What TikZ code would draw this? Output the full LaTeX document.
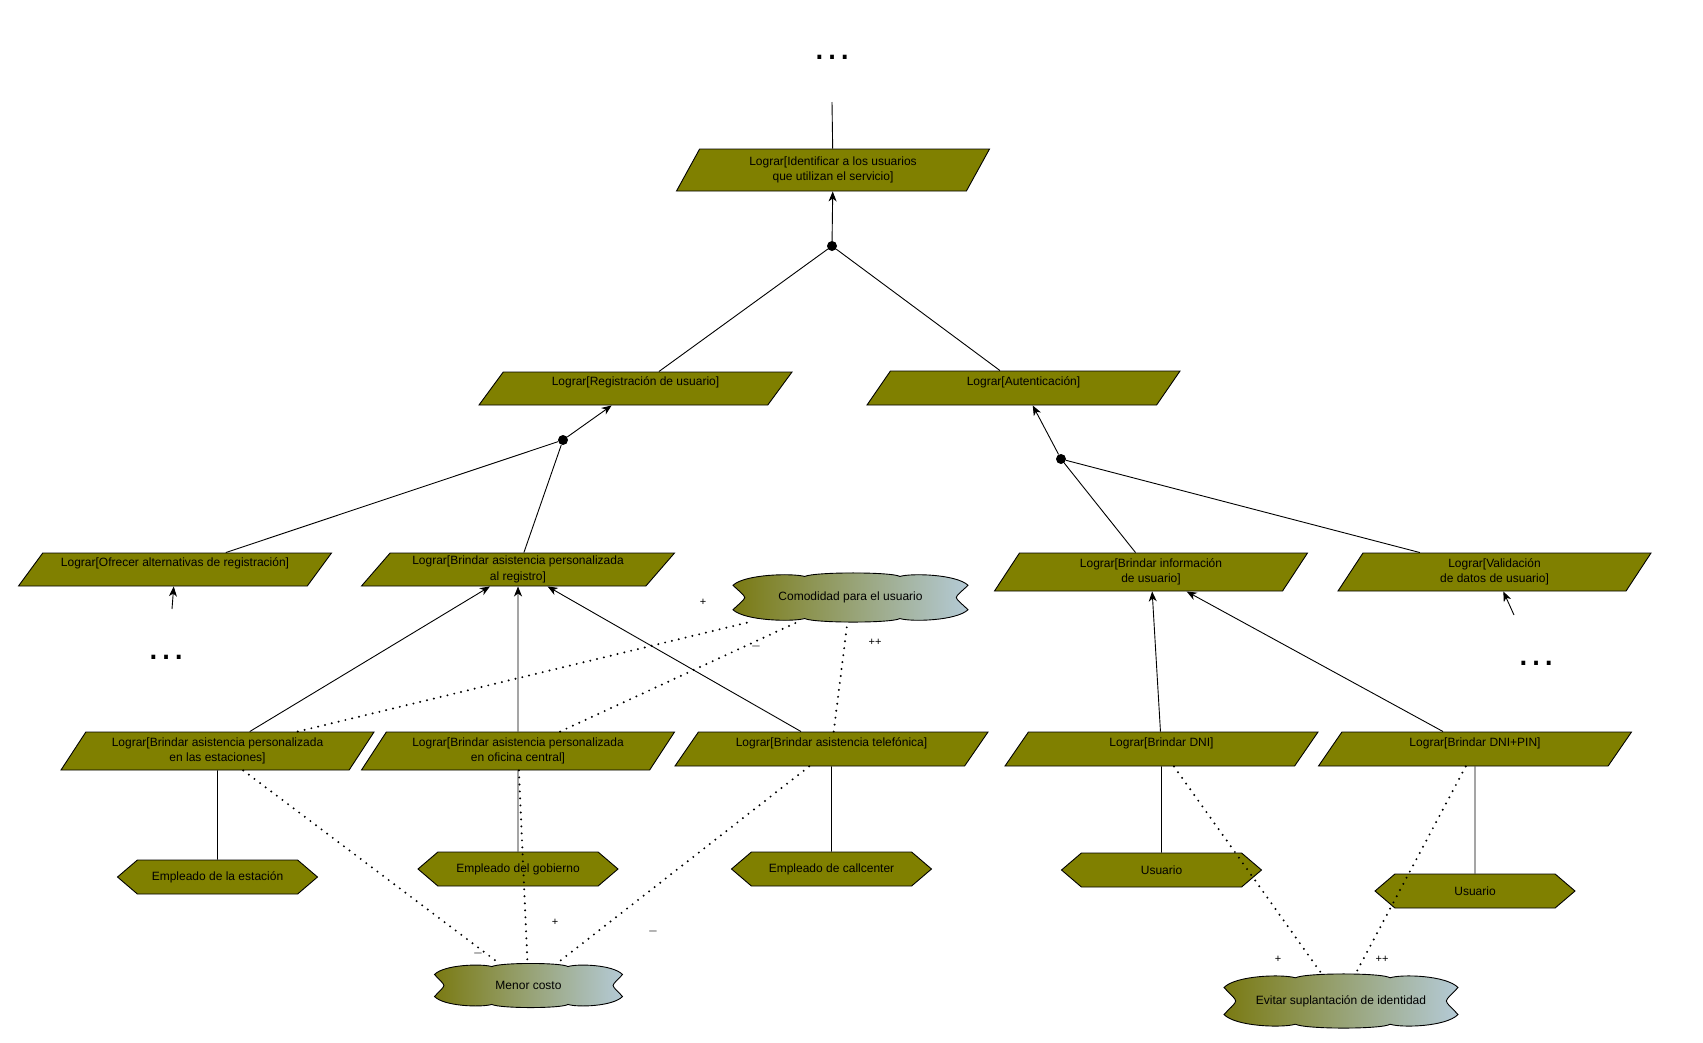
\documentclass[tikz,border=0pt]{standalone}
\usepackage{fontspec}
\setmainfont{Liberation Sans}
\usetikzlibrary{shapes.geometric,shapes.symbols,arrows.meta}

\definecolor{goalfill}{RGB}{128,128,0}
\definecolor{cloudL}{RGB}{122,122,18}
\definecolor{cloudR}{RGB}{180,202,214}
\definecolor{minusgray}{RGB}{155,155,155}

\tikzset{
  base/.style={font=\fontsize{12}{15.5}\selectfont},
  goal/.style={base, trapezium, trapezium stretches body, draw=black, line width=0.9pt,
    fill=goalfill, minimum width=313pt, align=center, inner sep=2pt},
  gh42/.style={goal, minimum height=42pt, trapezium left angle=53, trapezium right angle=127},
  gh38/.style={goal, minimum height=38pt, trapezium left angle=51, trapezium right angle=129},
  gh34/.style={goal, minimum height=34pt, trapezium left angle=48, trapezium right angle=132},
  gh33/.style={goal, minimum height=33pt, trapezium left angle=47, trapezium right angle=133},
  oneline/.style={text height=8pt, text depth=14pt},
  actor/.style={base, signal, signal to=west and east, signal pointer angle=81, draw=black,
    line width=0.9pt, fill=goalfill, minimum width=200pt, minimum height=34pt, inner sep=2pt},
  andpt/.style={circle, fill=black, minimum size=10pt, inner sep=0pt},
  more/.style={font=\fontsize{40}{40}\selectfont, inner sep=0pt},
  sgtext/.style={base, inner sep=0pt},
  link/.style={line width=0.9pt},
  meansend/.style={link, -{Stealth[length=10pt,width=8pt,inset=3pt]}},
  contrib/.style={line width=2.2pt, line cap=round, dash pattern=on 0pt off 7pt},
  lbl/.style={font=\fontsize{11}{11}\selectfont, inner sep=0pt},
  lblneg/.style={font=\fontsize{15}{15}\selectfont\bfseries, text=minusgray, inner sep=0pt},
}

% soft goal: cloud outline with a left-to-right shading and a named text node
\newcommand\softgoal[6]{%
  \begin{scope}[shift={(#2,#3)}, x=#4pt, y=#5pt]
    \draw[line width=0.9pt, left color=cloudL, right color=cloudR]
      (-1,0.5) .. controls (-0.9,0.95) and (-0.5,1.0) .. (-0.39,0.86)
      .. controls (-0.3,1.05) and (0.35,1.05) .. (0.42,0.86)
      .. controls (0.52,1.0) and (0.9,0.95) .. (1,0.5)
      .. controls (0.96,0.3) and (0.9,0.1) .. (0.9,0)
      .. controls (0.9,-0.1) and (0.96,-0.3) .. (1,-0.5)
      .. controls (0.9,-0.95) and (0.52,-1.0) .. (0.42,-0.86)
      .. controls (0.35,-1.05) and (-0.3,-1.05) .. (-0.39,-0.86)
      .. controls (-0.5,-1.0) and (-0.9,-0.95) .. (-1,-0.5)
      .. controls (-0.96,-0.3) and (-0.9,-0.1) .. (-0.9,0)
      .. controls (-0.9,0.1) and (-0.96,0.3) .. (-1,0.5) -- cycle;
  \end{scope}
  \node[sgtext, minimum width=#4pt*2, minimum height=#5pt*2] (#1) at (#2,#3) {#6};
}

\begin{document}
\begin{tikzpicture}[x=1pt, y=-1pt]
\fill[white] (0,0) rectangle (1703,1042);
\useasboundingbox (0,0) rectangle (1703,1042);

% goals
\node[gh42] (g0) at (833,170) {Lograr[Identificar a los usuarios\\que utilizan el servicio]};
\node[gh33, oneline] (reg) at (635.5,388.5) {Lograr[Registración de usuario]};
\node[gh34, oneline] (aut) at (1023.5,388) {Lograr[Autenticación]};
\node[gh33, oneline] (ofr) at (175,569.5) {Lograr[Ofrecer alternativas de registración]};
\node[gh33] (alreg) at (518,569.5) {Lograr[Brindar asistencia personalizada\\al registro]};
\node[gh38] (binf) at (1151,572) {Lograr[Brindar información\\de usuario]};
\node[gh38] (val) at (1494.5,572) {Lograr[Validación\\de datos de usuario]};
\node[gh38] (est) at (217.5,751) {Lograr[Brindar asistencia personalizada\\en las estaciones]};
\node[gh38] (ofi) at (518,751) {Lograr[Brindar asistencia personalizada\\en oficina central]};
\node[gh34, oneline] (tel) at (831.5,749) {Lograr[Brindar asistencia telefónica]};
\node[gh34, oneline] (dni) at (1161.5,749) {Lograr[Brindar DNI]};
\node[gh34, oneline] (pin) at (1475,749) {Lograr[Brindar DNI+PIN]};

% actors
\node[actor] (e1) at (217.5,877) {Empleado de la estación};
\node[actor] (e2) at (518,869) {Empleado del gobierno};
\node[actor] (e3) at (831.5,869) {Empleado de callcenter};
\node[actor] (u1) at (1161.5,870) {Usuario};
\node[actor] (u2) at (1475,891) {Usuario};

% soft goals
\softgoal{cm}{850.5}{597.5}{117.5}{24.5}{Comodidad para el usuario}
\softgoal{mc}{528.5}{985.5}{94}{22}{Menor costo}
\softgoal{ev}{1341}{1001}{117}{27}{Evitar suplantación de identidad}

% decomposition points
\node[andpt] (dA) at (832,246) {};
\node[andpt] (dB) at (563,440) {};
\node[andpt] (dC) at (1061,459) {};

% elided parts of the model
\node[more] (m0) at (832,57) {…};
\node[more] (m1) at (166,657) {…};
\node[more] (m2) at (1536,663) {…};
\coordinate (t0) at (832,102);
\coordinate (t1) at (172,609);
\coordinate (t2) at (1514,615);

% refinement links
\draw[link] (t0) -- (g0);
\draw[meansend] (dA) -- (g0);
\draw[link] (dA) -- (reg);
\draw[link] (dA) -- (aut);
\draw[meansend] (dB) -- (reg);
\draw[link] (dB) -- (ofr);
\draw[link] (dB) -- (alreg);
\draw[meansend] (dC) -- (aut);
\draw[link] (dC) -- (binf);
\draw[link] (dC) -- (val);
\draw[meansend] (t1) -- (ofr);
\draw[meansend] (t2) -- (val);

% means-end links
\draw[meansend] (est) -- (alreg);
\draw[meansend] (ofi) -- (alreg);
\draw[meansend] (tel) -- (alreg);
\draw[meansend] (dni) -- (binf);
\draw[meansend] (pin) -- (binf);

% responsibility links
\draw[link] (est) -- (e1);
\draw[link] (ofi) -- (e2);
\draw[link] (tel) -- (e3);
\draw[link] (dni) -- (u1);
\draw[link] (pin) -- (u2);

% contributions
\draw[contrib] (est) -- (cm);
\draw[contrib] (ofi) -- (cm);
\draw[contrib] (tel) -- (cm);
\draw[contrib] (est) -- (mc);
\draw[contrib] (ofi) -- (mc);
\draw[contrib] (tel) -- (mc);
\draw[contrib] (dni) -- (ev);
\draw[contrib] (pin) -- (ev);

\node[lbl] (l1) at (703,602) {+};
\node[lblneg] (l2) at (756,648) {–};
\node[lbl] (l3) at (875,642) {++};
\node[lblneg] (l4) at (478,955) {–};
\node[lbl] (l5) at (555,922) {+};
\node[lblneg] (l6) at (653,933) {–};
\node[lbl] (l7) at (1278,959) {+};
\node[lbl] (l8) at (1382,959) {++};
\end{tikzpicture}
\end{document}
